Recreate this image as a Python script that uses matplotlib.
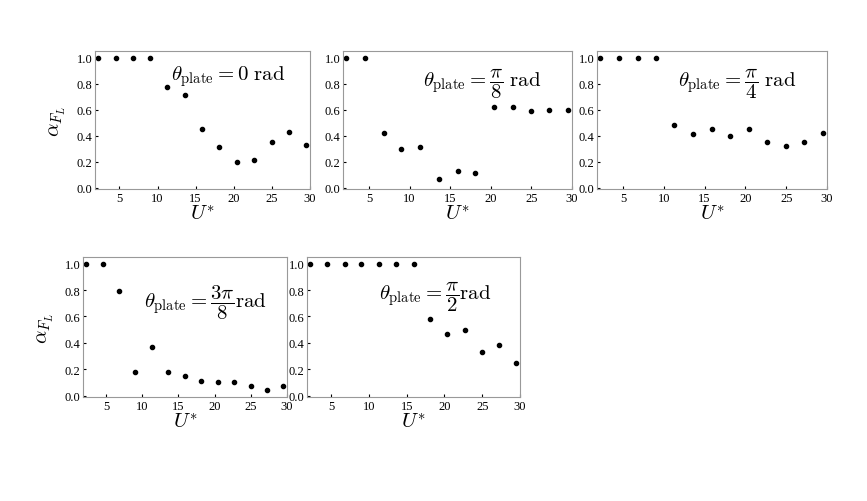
import matplotlib
matplotlib.use("Agg")
import matplotlib.pyplot as plt

plt.rcParams['mathtext.fontset'] = 'cm'
plt.rcParams['font.family'] = 'serif'
plt.rcParams['font.serif'] = ['Liberation Serif', 'DejaVu Serif']

u_star = [2.2, 4.5, 6.8, 9.0, 11.3, 13.6, 15.9, 18.1, 20.4, 22.7, 25.0, 27.2, 29.5]
alpha_0 = [1, 1, 1, 1, 0.77, 0.71, 0.45, 0.31, 0.20, 0.21, 0.35, 0.43, 0.33]
alpha_pi8 = [1, 1, 0.42, 0.30, 0.31, 0.07, 0.13, 0.11, 0.62, 0.62, 0.59, 0.60, 0.60]
alpha_pi4 = [1, 1, 1, 1, 0.48, 0.41, 0.45, 0.40, 0.45, 0.35, 0.32, 0.35, 0.42]
alpha_3pi8 = [1, 1, 0.79, 0.18, 0.37, 0.18, 0.15, 0.11, 0.10, 0.10, 0.07, 0.04, 0.07]
alpha_pi2 = [1, 1, 1, 1, 1, 1, 1, 0.58, 0.47, 0.50, 0.33, 0.38, 0.25]

labels = [r'$\theta_{\rm plate} = 0\ \rm rad$',
          r'$\theta_{\rm plate} = \dfrac{\pi}{8}\ \rm rad$',
          r'$\theta_{\rm plate} = \dfrac{\pi}{4}\ \rm rad$',
          r'$\theta_{\rm plate} = \dfrac{3\pi}{8}\rm rad$',
          r'$\theta_{\rm plate} = \dfrac{\pi}{2}\rm rad$']
series = [alpha_0, alpha_pi8, alpha_pi4, alpha_3pi8, alpha_pi2]

W, H = 867, 502
# axes boxes in pixels: left, top, right, bottom
boxes = [(95, 52, 310, 190), (343, 52, 572, 190), (597, 52, 827, 190),
         (83, 258, 287, 398), (307, 258, 520, 398)]
label_pos = [(0.62, 0.82), (0.61, 0.77), (0.61, 0.77), (0.60, 0.68), (0.60, 0.72)]
ylabel_on = [True, False, False, True, False]

fig = plt.figure(figsize=(W / 100, H / 100), dpi=100)
for box, y, lab, lp, yl in zip(boxes, series, labels, label_pos, ylabel_on):
    l, t, r, b = box
    ax = fig.add_axes([l / W, 1 - b / H, (r - l) / W, (b - t) / H])
    ax.plot(u_star, y, 'o', color='black', ms=3)
    ax.set_xlim(1.8, 30)
    ax.set_ylim(-0.01, 1.05)
    ax.set_xticks([5, 10, 15, 20, 25, 30])
    ax.set_yticks([0, 0.2, 0.4, 0.6, 0.8, 1.0])
    ax.set_yticklabels(['0.0', '0.2', '0.4', '0.6', '0.8', '1.0'])
    ax.tick_params(labelsize=9, length=2, direction='in', pad=2)
    for s in ax.spines.values():
        s.set_color('#999999')
    ax.set_xlabel(r'$U^{*}$', fontsize=15, labelpad=1)
    if yl:
        ax.set_ylabel(r'$\alpha_{F_L}$', fontsize=15, labelpad=6)
    ax.text(lp[0], lp[1], lab, transform=ax.transAxes, ha='center', va='center', fontsize=15)

fig.savefig('out.png', dpi=100)
